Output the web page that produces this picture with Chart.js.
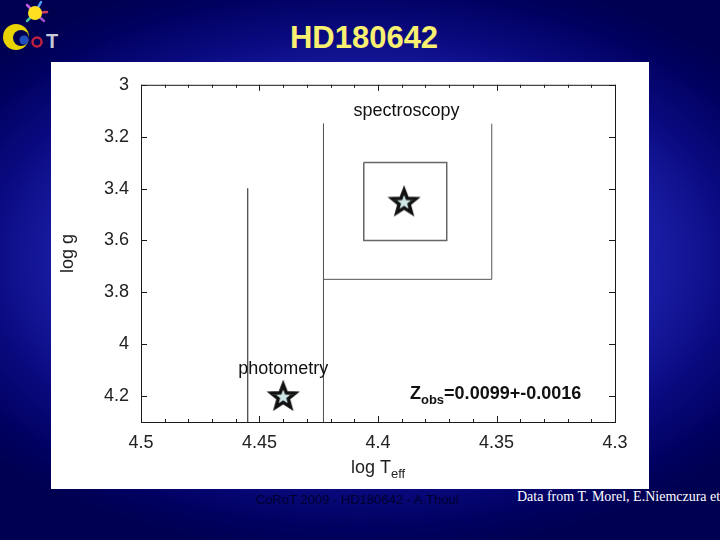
<!DOCTYPE html>
<html>
<head>
<meta charset="utf-8">
<title>HD180642</title>
<script src="https://cdn.jsdelivr.net/npm/chart.js@4.4.1/dist/chart.umd.min.js"></script>
<style>
    html, body { margin: 0; padding: 0; }
    body {
        width: 720px; height: 540px; overflow: hidden; position: relative;
        background: radial-gradient(ellipse 500px 300px at 50% 48%, #2c30bc 0%, #181ca2 60%, #0a0a80 75%, #000060 90%, #000050 100%);
        font-family: 'Liberation Sans', Arial, sans-serif;
    }
    #logo { position: absolute; left: 0; top: 0; }
    #title {
        position: absolute; left: 0; width: 728px; top: 22px; line-height: 31px;
        text-align: center; color: #f8f070; font-weight: bold; font-size: 31px;
    }
    #panel { position: absolute; left: 51px; top: 62px; width: 598px; height: 427px; background: #fff; }
    #credit { position: absolute; left: 256px; top: 492px; color: #00002e; font-size: 13px; }
    #source {
        position: absolute; left: 517px; top: 489px; line-height: 16px; color: #fff; white-space: nowrap;
        font-size: 14px; font-family: 'Liberation Serif', 'Times New Roman', serif;
    }
</style>
</head>
<body>
<svg id="logo" width="80" height="58" viewBox="0 0 80 58">
    <g stroke-width="2.5" stroke-linecap="round">
        <line x1="35" y1="13" x2="27" y2="5" stroke="#c060e0"/>
        <line x1="35" y1="13" x2="41" y2="2" stroke="#50a0ff"/>
        <line x1="35" y1="13" x2="47" y2="12" stroke="#d04060"/>
        <line x1="35" y1="13" x2="44" y2="21" stroke="#a050d0"/>
        <line x1="35" y1="13" x2="27" y2="21" stroke="#40c0a0"/>
    </g>
    <circle cx="35" cy="13" r="7" fill="#ffe020"/>
    <circle cx="16" cy="37" r="13" fill="#e8d400"/>
    <circle cx="21" cy="38" r="8" fill="#000050"/>
    <circle cx="24" cy="40" r="4.5" fill="#2050c0"/>
    <circle cx="37" cy="42" r="4.5" fill="none" stroke="#c02040" stroke-width="2.5"/>
    <text x="46" y="48" fill="#c8c8d8" font-size="20" font-weight="bold" font-family="Liberation Sans">T</text>
</svg>
<div id="title">HD180642</div>
<div id="panel"><canvas id="chart-hr"></canvas></div>
<div id="credit">CoRoT 2009 - HD180642 - A.Thoul</div>
<div id="source">Data from T. Morel, E.Niemczura et al.</div>

<script>
// Etiquetas de los ejes
const xLabels = ['4.5', '4.45', '4.4', '4.35', '4.3'];
const yLabels = ['3', '3.2', '3.4', '3.6', '3.8', '4', '4.2'];

// Cajas de error (log Teff, log g)
const photoLeftT = [4.455, 4.455];
const photoLeftG = [3.40, 4.30];
const specLeftT = [4.423, 4.423];
const specLeftG = [3.15, 4.30];
const specOuterT = [4.423, 4.352, 4.352];
const specOuterG = [3.75, 3.75, 3.15];
const specInnerT = [4.406, 4.371, 4.371, 4.406, 4.406];
const specInnerG = [3.30, 3.30, 3.60, 3.60, 3.30];

// Estrellas: espectroscopia y fotometría
const starT = [4.389, 4.44];
const starG = [3.45, 4.20];

// Textos dentro del gráfico
const notes = [
    { text: 'spectroscopy', t: 4.388, g: 3.10 },
    { text: 'photometry', t: 4.44, g: 4.095 }
];
const zNote = { t: 4.3865, g: 4.19 };

function puntos(ts, gs) {
    return ts.map((t, i) => ({ x: t, y: gs[i] }));
}

function crearEstrella() {
    const c = document.createElement('canvas');
    c.width = 34;
    c.height = 34;
    const g = c.getContext('2d');
    g.beginPath();
    for (let i = 0; i < 10; i++) {
        const r = i % 2 === 0 ? 12.5 : 5.3;
        const a = -Math.PI / 2 + i * Math.PI / 5;
        g.lineTo(17 + r * Math.cos(a), 18 + r * Math.sin(a));
    }
    g.closePath();
    g.fillStyle = '#cfe6e6';
    g.fill();
    g.lineWidth = 3.5;
    g.strokeStyle = '#111';
    g.stroke();
    return c;
}

// Dibuja texto con subíndice
function textoSub(ctx, partes, x, y, align) {
    let ancho = 0;
    partes.forEach(p => { ctx.font = p.font; ancho += ctx.measureText(p.t).width; });
    let cx = align === 'center' ? x - ancho / 2 : x;
    ctx.textAlign = 'left';
    ctx.textBaseline = 'alphabetic';
    partes.forEach(p => {
        ctx.font = p.font;
        ctx.fillText(p.t, cx, y + p.dy);
        cx += ctx.measureText(p.t).width;
    });
}

const decorado = {
    id: 'decorado',
    afterDraw(chart) {
        const { ctx, chartArea: a, scales: { x, y } } = chart;
        ctx.save();
        ctx.strokeStyle = '#1a1a1a';
        ctx.lineWidth = 1;
        ctx.strokeRect(a.left + 0.5, a.top + 0.5, a.width, a.height);

        // marcas hacia dentro
        ctx.beginPath();
        x.ticks.forEach(tk => {
            const px = Math.round(x.getPixelForValue(tk.value)) + 0.5;
            const mayor = Math.round(tk.value * 100) % 5 === 0;
            const len = mayor ? 6 : 3;
            ctx.moveTo(px, a.bottom);
            ctx.lineTo(px, a.bottom - len);
            ctx.moveTo(px, a.top);
            ctx.lineTo(px, a.top + len);
        });
        y.ticks.forEach(tk => {
            const py = Math.round(y.getPixelForValue(tk.value)) + 0.5;
            ctx.moveTo(a.left, py);
            ctx.lineTo(a.left + 6, py);
            ctx.moveTo(a.right, py);
            ctx.lineTo(a.right - 6, py);
        });
        ctx.stroke();

        ctx.fillStyle = '#222';
        const f = "'Liberation Sans', Arial, sans-serif";
        // título eje x
        textoSub(ctx, [
            { t: 'log T', font: '18px ' + f, dy: 0 },
            { t: 'eff', font: '13px ' + f, dy: 5 }
        ], (a.left + a.right) / 2, a.bottom + 51, 'center');

        // título eje y
        ctx.save();
        ctx.translate(17, (a.top + a.bottom) / 2);
        ctx.rotate(-Math.PI / 2);
        ctx.font = '18px ' + f;
        ctx.textAlign = 'center';
        ctx.textBaseline = 'middle';
        ctx.fillText('log g', 0, 0);
        ctx.restore();

        // notas
        ctx.fillStyle = '#111';
        ctx.font = '18px ' + f;
        ctx.textAlign = 'center';
        ctx.textBaseline = 'middle';
        notes.forEach(n => {
            ctx.fillText(n.text, x.getPixelForValue(n.t), y.getPixelForValue(n.g));
        });
        textoSub(ctx, [
            { t: 'Z', font: 'bold 18px ' + f, dy: 0 },
            { t: 'obs', font: 'bold 13px ' + f, dy: 5 },
            { t: '=0.0099+-0.0016', font: 'bold 18px ' + f, dy: 0 }
        ], x.getPixelForValue(zNote.t), y.getPixelForValue(zNote.g) + 6, 'left');
        ctx.restore();
    }
};

const linea = (ts, gs, color, w) => ({
    data: puntos(ts, gs),
    showLine: true,
    borderColor: color,
    borderWidth: w,
    pointRadius: 0,
    fill: false
});

document.addEventListener('DOMContentLoaded', function() {
    const ctx = document.getElementById('chart-hr');
    Chart.defaults.font.family = "'Liberation Sans', Arial, sans-serif";

    new Chart(ctx, {
        type: 'scatter',
        data: {
            datasets: [
                linea(photoLeftT, photoLeftG, '#555', 1),
                linea(specLeftT, specLeftG, '#555', 1),
                linea(specOuterT, specOuterG, '#555', 1),
                linea(specInnerT, specInnerG, '#666', 1.5),
                {
                    data: puntos(starT, starG),
                    pointStyle: crearEstrella(),
                    pointRadius: 15,
                    showLine: false
                }
            ]
        },
        options: {
            responsive: true,
            maintainAspectRatio: false,
            animation: false,
            layout: { padding: { top: 18, right: 34, left: 0, bottom: 0 } },
            plugins: {
                legend: { display: false },
                tooltip: { enabled: false }
            },
            scales: {
                x: {
                    type: 'linear',
                    reverse: true,
                    min: 4.3,
                    max: 4.5,
                    grid: { display: false, drawTicks: false },
                    border: { display: false },
                    ticks: {
                        stepSize: 0.01,
                        autoSkip: false,
                        maxRotation: 0,
                        padding: 10,
                        color: '#222',
                        font: { size: 18 },
                        callback: v => {
                            const s = String(Math.round(v * 100) / 100);
                            return xLabels.includes(s) ? s : '';
                        }
                    },
                    afterFit: s => { s.height = 67; }
                },
                y: {
                    type: 'linear',
                    reverse: true,
                    min: 3,
                    max: 4.3,
                    grid: { display: false, drawTicks: false },
                    border: { display: false },
                    ticks: {
                        stepSize: 0.2,
                        includeBounds: false,
                        padding: 12,
                        color: '#222',
                        font: { size: 18 },
                        callback: v => {
                            const s = String(Math.round(v * 10) / 10);
                            return yLabels.includes(s) ? s : '';
                        }
                    },
                    afterFit: s => { s.width = 90; }
                }
            }
        },
        plugins: [decorado]
    });
});
</script>
</body>
</html>
